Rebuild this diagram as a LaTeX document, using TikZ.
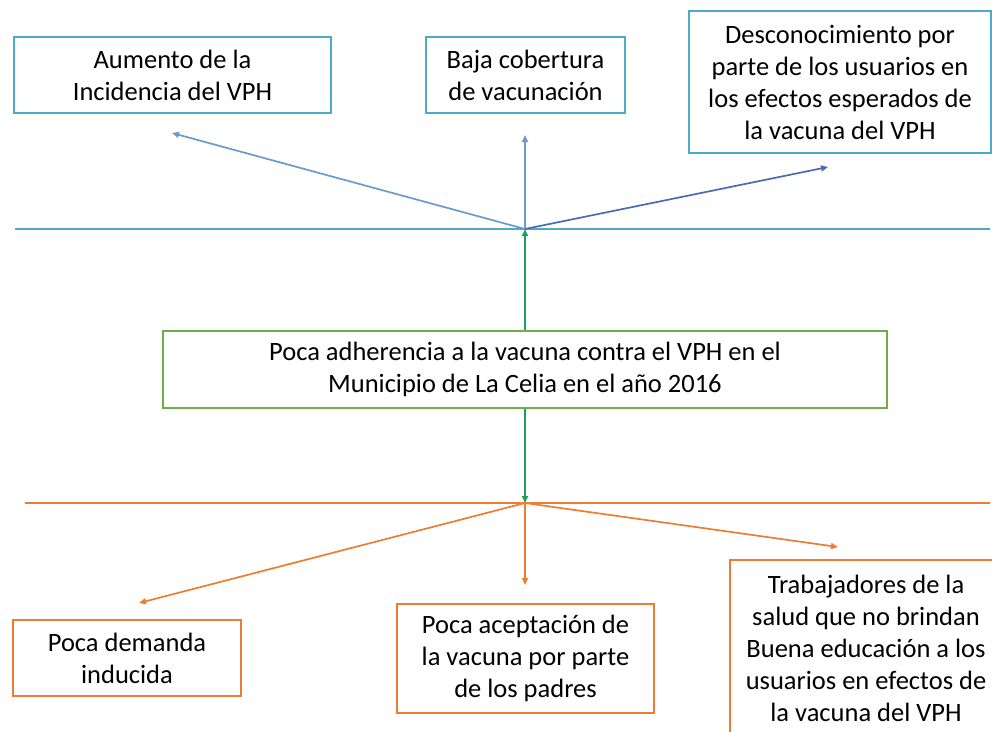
\documentclass[tikz,border=0pt]{standalone}
\usepackage{fontspec}
\setmainfont{Carlito}
\usetikzlibrary{arrows.meta}
\definecolor{aqua}{HTML}{4BACC6}
\definecolor{steel}{HTML}{6A9BCB}
\definecolor{deepblue}{HTML}{4A6CB3}
\definecolor{leaf}{HTML}{70AD47}
\definecolor{greenarrow}{HTML}{1FA05A}
\definecolor{orng}{HTML}{ED7D31}
\tikzset{
  box/.style={draw, line width=2pt, fill=white, inner sep=0pt, align=center,
    font=\fontsize{26.5}{32}\selectfont},
  effectbox/.style={box, draw=aqua},
  problembox/.style={box, draw=leaf},
  causebox/.style={box, draw=orng},
  arr/.style={line width=1.7pt, -{Triangle[length=7pt,width=6pt]}},
  baseline/.style={line width=2pt}
}
\begin{document}
\begin{tikzpicture}[x=1pt,y=-1pt]
\useasboundingbox (0,0) rectangle (992,731);
\fill[white] (0,0) rectangle (992,731);
% effects
\node[effectbox, minimum width=317pt, minimum height=76pt] (aum) at (172.5,75) {Aumento de la\\Incidencia del VPH};
\node[effectbox, minimum width=199pt, minimum height=76pt] (baja) at (525.5,75) {Baja cobertura\\de vacunación};
\node[effectbox, minimum width=302pt, minimum height=142pt] (desc) at (840,82) {Desconocimiento por\\parte de los usuarios en\\los efectos esperados de\\la vacuna del VPH};
% upper line
\coordinate (tl) at (15,229);
\coordinate (tr) at (990,229);
\coordinate (htop) at (525,229);
\draw[aqua, baseline] (tl) -- (tr);
\coordinate (aumtip) at (172,133);
\coordinate (bajatip) at (525,135);
\coordinate (desctip) at (828,167);
\draw[arr, steel] (htop) -- (aumtip);
\draw[arr, steel] (htop) -- (bajatip);
\draw[arr, deepblue] (htop) -- (desctip);
% problem
\node[problembox, minimum width=724pt, minimum height=77pt] (prob) at (525,369.5) {Poca adherencia a la vacuna contra el VPH en el\\Municipio de La Celia en el año 2016};
\coordinate (hbot) at (525,503);
\draw[arr, greenarrow] (prob.north) -- (htop);
\draw[arr, greenarrow] (prob.south) -- (hbot);
% lower line
\coordinate (bl) at (25,503);
\coordinate (br) at (990,503);
\draw[orng, baseline] (bl) -- (br);
\coordinate (demtip) at (139,603);
\coordinate (acetip) at (525,585);
\coordinate (trabtip) at (838,547);
\draw[arr, orng] (hbot) -- (demtip);
\draw[arr, orng] (hbot) -- (acetip);
\draw[arr, orng] (hbot) -- (trabtip);
% causes
\node[causebox, minimum width=228pt, minimum height=76pt] (dem) at (127,658) {Poca demanda\\inducida};
\node[causebox, minimum width=257pt, minimum height=109pt] (ace) at (525.5,658.5) {Poca aceptación de\\la vacuna por parte\\de los padres};
\node[causebox, minimum width=272pt, minimum height=176pt] (trab) at (866,648) {Trabajadores de la\\salud que no brindan\\Buena educación a los\\usuarios en efectos de\\la vacuna del VPH};
\end{tikzpicture}
\end{document}
